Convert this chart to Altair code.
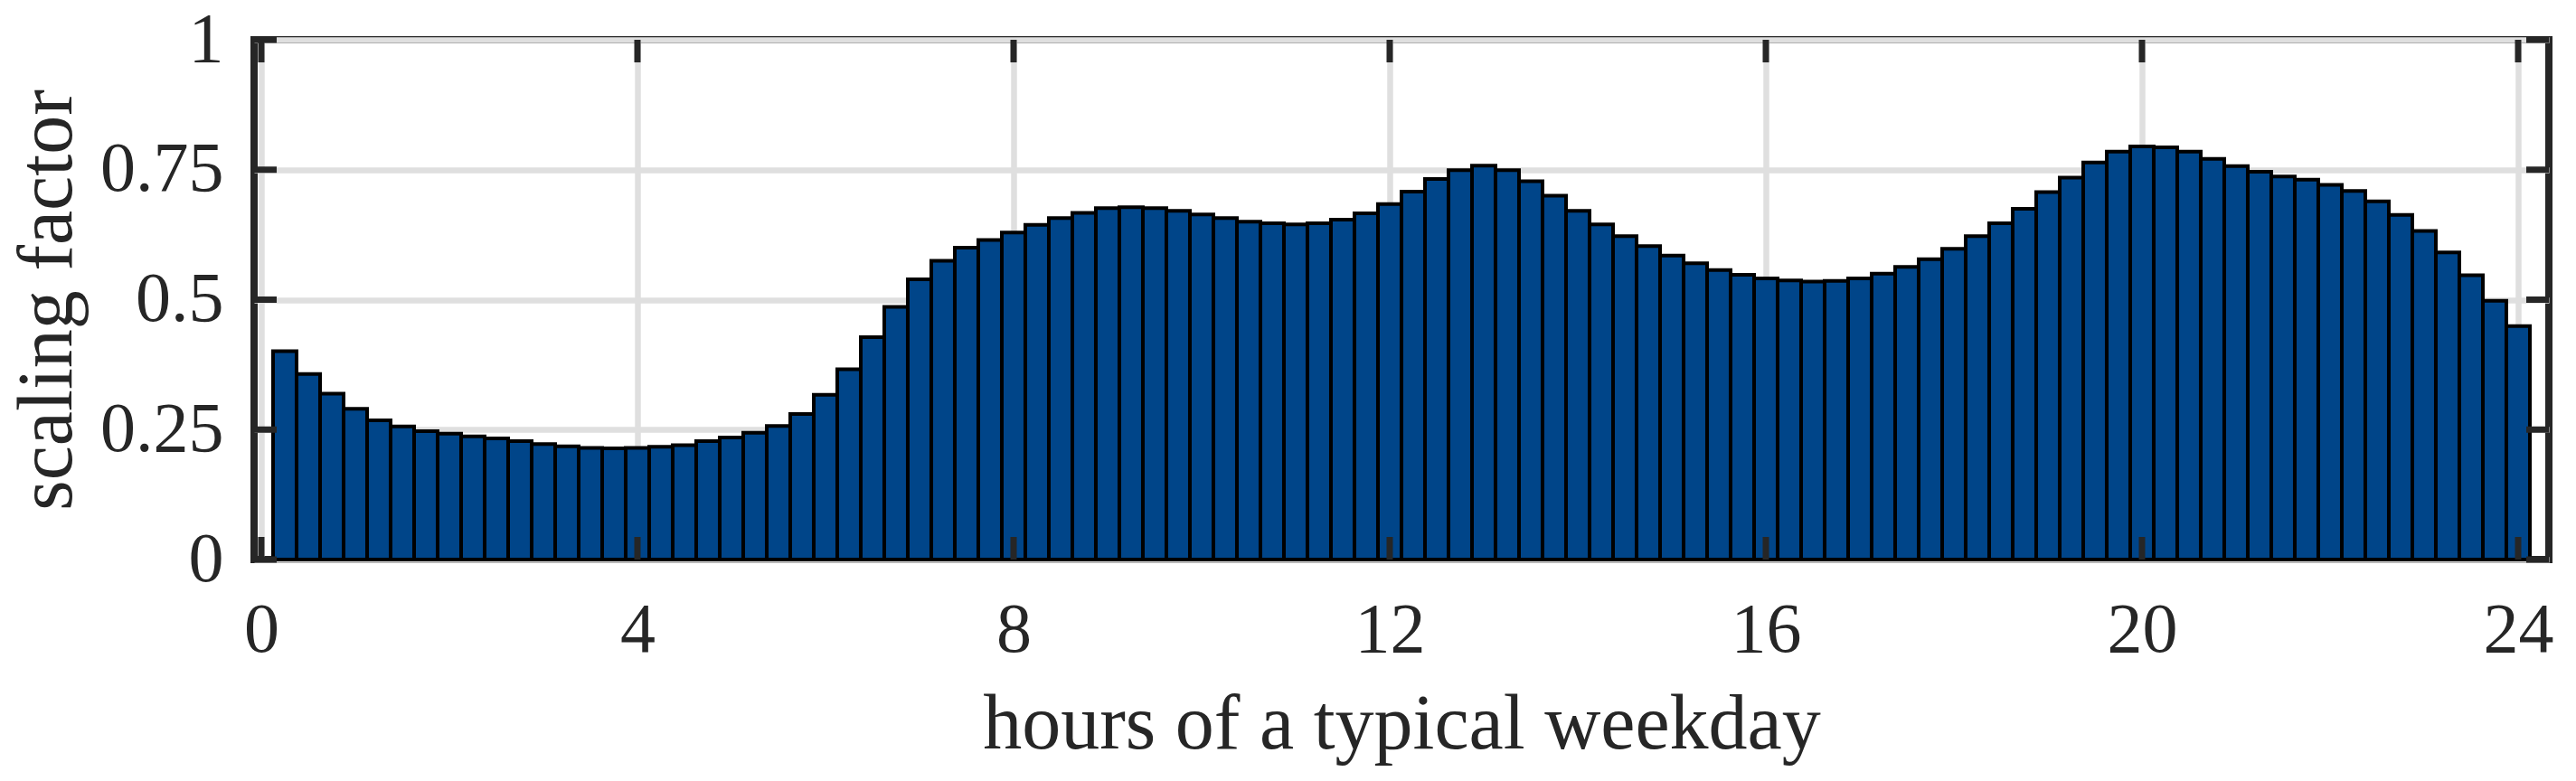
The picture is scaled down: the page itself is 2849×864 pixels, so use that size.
import altair as alt
import pandas as pd

# 15-minute bins: bar centres 0.25 ... 24.0 h
hours = [0.25 * k for k in range(1, 97)]
values = [
    0.401, 0.357, 0.319, 0.290, 0.268, 0.256, 0.247, 0.242,
    0.237, 0.233, 0.228, 0.222, 0.218, 0.215, 0.214, 0.215,
    0.217, 0.220, 0.228, 0.235, 0.244, 0.257, 0.280, 0.317,
    0.366, 0.428, 0.486, 0.539, 0.575, 0.600, 0.615, 0.629,
    0.644, 0.657, 0.667, 0.676, 0.678, 0.676, 0.671, 0.664,
    0.657, 0.650, 0.647, 0.645, 0.647, 0.654, 0.666, 0.684,
    0.708, 0.732, 0.749, 0.758, 0.749, 0.728, 0.700, 0.671,
    0.645, 0.622, 0.603, 0.585, 0.570, 0.557, 0.548, 0.541,
    0.537, 0.535, 0.536, 0.541, 0.550, 0.563, 0.578, 0.598,
    0.622, 0.647, 0.675, 0.707, 0.735, 0.764, 0.785, 0.795,
    0.793, 0.785, 0.771, 0.757, 0.746, 0.737, 0.731, 0.721,
    0.709, 0.689, 0.663, 0.632, 0.591, 0.547, 0.498, 0.449,
]
bin_width = 0.25
x_ticks = [0, 4, 8, 12, 16, 20, 24]
y_ticks = [0, 0.25, 0.5, 0.75, 1]
x_title = "hours of a typical weekday"
y_title = "scaling factor"

W, H = 2538, 575
TICK = 25
INK = "#262626"
FONT = "Liberation Serif"

bars_df = pd.DataFrame({"t": hours, "v": values})
xt_df = pd.DataFrame({"v": x_ticks})
yt_df = pd.DataFrame({"v": y_ticks})

xscale = alt.Scale(domain=[-0.0769, 24.327], nice=False, zero=False)
yscale = alt.Scale(domain=[0, 1], nice=False)

xaxis = alt.Axis(
    values=x_ticks, format="d", title=x_title, grid=True,
    labelPadding=39, titleBaseline="alphabetic", titleY=208,
    titleX=W / 2, titleAnchor="middle",
)
yaxis = alt.Axis(
    values=y_ticks, format=".2~f", title=y_title, grid=True,
    labelPadding=34, titleBaseline="alphabetic", titleX=-203,
    titleY=H / 2, titleAnchor="middle", titleAngle=270,
)

bars = (
    alt.Chart(bars_df)
    .transform_calculate(x0=f"datum.t - {bin_width / 2}", x1=f"datum.t + {bin_width / 2}")
    .mark_rect(fill="#004589", stroke="#000000", strokeWidth=4)
    .encode(
        x=alt.X("x0:Q", scale=xscale, axis=xaxis, title=x_title),
        x2="x1:Q",
        y=alt.Y("v:Q", scale=yscale, axis=yaxis, title=y_title),
        y2=alt.datum(0),
    )
)

tick_style = dict(color=INK, strokeWidth=7)

xt_bottom = alt.Chart(xt_df).mark_rule(**tick_style).encode(
    x=alt.X("v:Q", scale=xscale, axis=xaxis, title=x_title), y=alt.value(H - TICK), y2=alt.value(H)
)
xt_top = alt.Chart(xt_df).mark_rule(**tick_style).encode(
    x=alt.X("v:Q", scale=xscale, axis=xaxis, title=x_title), y=alt.value(0), y2=alt.value(TICK)
)
yt_left = alt.Chart(yt_df).mark_rule(**tick_style).encode(
    y=alt.Y("v:Q", scale=yscale, axis=yaxis, title=y_title), x=alt.value(0), x2=alt.value(TICK)
)
yt_right = alt.Chart(yt_df).mark_rule(**tick_style).encode(
    y=alt.Y("v:Q", scale=yscale, axis=yaxis, title=y_title), x=alt.value(W - TICK), x2=alt.value(W)
)

chart = (
    alt.layer(bars, xt_bottom, xt_top, yt_left, yt_right)
    .properties(
        width=W,
        height=H,
        autosize=alt.AutoSizeParams(type="none"),
        padding={"left": 273, "top": 36, "right": 22, "bottom": 237},
        background="white",
    )
    .configure_view(stroke=INK, strokeWidth=8, fill="white")
    .configure_axis(
        domain=False,
        ticks=False,
        gridColor="#dfdfdf",
        gridWidth=6.5,
        gridOpacity=1,
        labelFont=FONT,
        labelFontSize=78,
        labelColor=INK,
        titleFont=FONT,
        titleFontSize=86,
        titleFontWeight="normal",
        titleColor=INK,
    )
)

chart.save("out.html", embed_options={"renderer": "svg", "actions": False})
